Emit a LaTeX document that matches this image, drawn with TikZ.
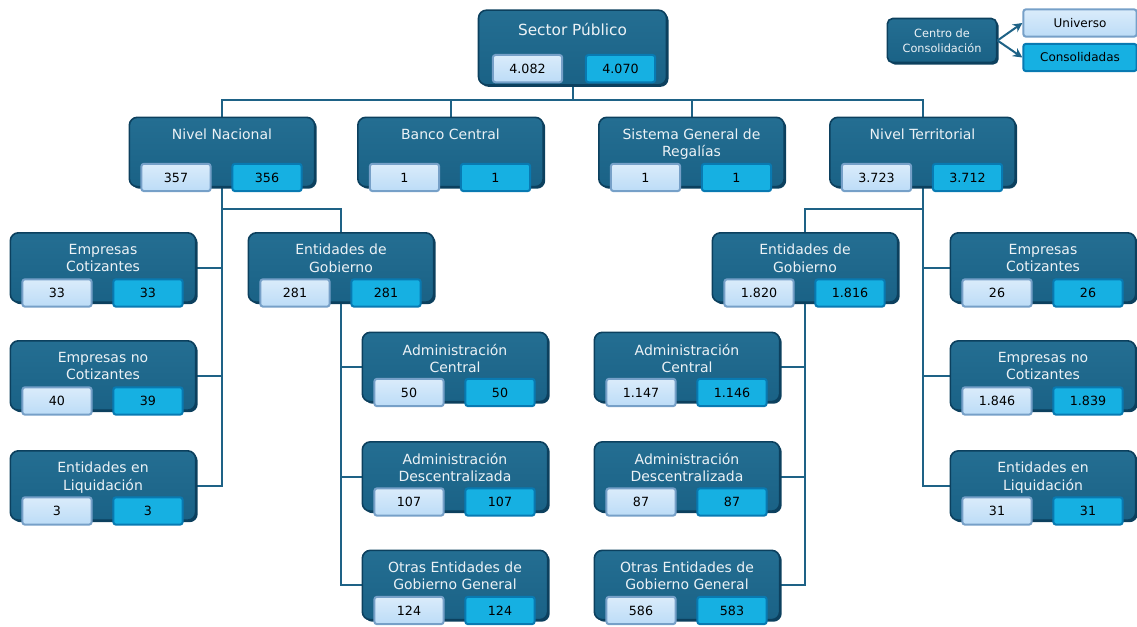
\documentclass[tikz,border=0pt]{standalone}
\usepackage{fontspec}
\setmainfont{DejaVu Sans}
\usetikzlibrary{calc,shadows,backgrounds,arrows.meta}
\definecolor{cajaazul}{RGB}{26,98,134}
\definecolor{cajaclara}{RGB}{36,110,146}
\definecolor{cajaborde}{RGB}{12,64,94}
\definecolor{linea}{RGB}{30,98,134}
\definecolor{textoclaro}{RGB}{236,242,246}
\definecolor{univfondo}{RGB}{188,220,247}
\definecolor{univborde}{RGB}{118,160,200}
\definecolor{consfondo}{RGB}{22,176,226}
\definecolor{consborde}{RGB}{8,122,178}
\tikzset{%
  caja/.style   = {shape=rectangle, rounded corners=6pt,%
                   draw=cajaborde, line width=1.2pt, inner sep=0pt,%
                   top color=cajaclara, bottom color=cajaazul,%
                   minimum width=139pt, minimum height=52pt,%
                   drop shadow={shadow xshift=1.5pt, shadow yshift=-1.5pt,%
                                fill=cajaborde, opacity=1}},%
  titulo/.style = {anchor=north, align=center, inner sep=0pt,%
                   text=textoclaro, font=\fontsize{10.5}{13}\selectfont},%
  mini/.style   = {shape=rectangle, rounded corners=2pt, line width=1.5pt,%
                   minimum width=52pt, minimum height=20.5pt, inner sep=0pt,%
                   font=\fontsize{9.5}{11}\selectfont},%
  univ/.style   = {mini, draw=univborde, top color=univfondo!55!white, bottom color=univfondo},%
  cons/.style   = {mini, draw=consborde, fill=consfondo},%
  conn/.style   = {draw=linea, line width=1.5pt}%
}
% caja con titulo y las dos cifras (universo, consolidadas)
\newcommand{\unidad}[6]{%
  \node[caja] (#1) at (#2,#3) {};
  \node[titulo] (#1-t) at ($(#1.north)+(0,12)$) {#4};
  \node[univ] (#1-u) at ($(#1.south)+(-46,-10)$) {#5};
  \node[cons] (#1-c) at ($(#1.south)+(45,-10)$) {#6};
}

\begin{document}
\begin{tikzpicture}[x=0.75pt, y=-0.75pt]
	\useasboundingbox (0,0) rectangle (1137,626);
	% leyenda
	\node[caja, minimum width=82pt, minimum height=33pt, rounded corners=4pt,%
	      text=textoclaro, align=center, font=\fontsize{8.5}{11}\selectfont]%
	      (cc) at (942,40.5) {Centro de\\Consolidación};
	\node[univ, minimum width=85pt, font=\fontsize{9}{11}\selectfont] (un) at (1080,23) {Universo};
	\node[cons, minimum width=85pt, font=\fontsize{9}{11}\selectfont] (co) at (1080,57.5) {Consolidadas};
	% sector publico
	\node[caja, minimum width=141pt, minimum height=56pt] (sp) at (572.5,47.5) {};
	\node[titulo, font=\fontsize{11.5}{13}\selectfont] (sp-t) at ($(sp.north)+(0,14)$) {Sector Público};
	\node[univ] (sp-u) at ($(sp.south)+(-45,-17)$) {4.082};
	\node[cons] (sp-c) at ($(sp.south)+(48,-17)$) {4.070};
	% segundo nivel
	\unidad{nn}{222}{152}{Nivel Nacional}{357}{356}
	\unidad{bc}{450.5}{152}{Banco Central}{1}{1}
	\unidad{sg}{691.5}{152}{Sistema General de\\Regalías}{1}{1}
	\unidad{nt}{922.5}{152}{Nivel Territorial}{3.723}{3.712}
	% nivel nacional
	\unidad{ecn}{103}{267.5}{Empresas\\Cotizantes}{33}{33}
	\unidad{enn}{103}{375.5}{Empresas no\\Cotizantes}{40}{39}
	\unidad{eln}{103}{485.5}{Entidades en\\Liquidación}{3}{3}
	\unidad{egn}{341}{267.5}{Entidades de\\Gobierno}{281}{281}
	\unidad{acn}{455}{367}{Administración\\Central}{50}{50}
	\unidad{adn}{455}{476.5}{Administración\\Descentralizada}{107}{107}
	\unidad{oen}{455}{585}{Otras Entidades de\\Gobierno General}{124}{124}
	% nivel territorial
	\unidad{egt}{805}{267.5}{Entidades de\\Gobierno}{1.820}{1.816}
	\unidad{act}{687}{367}{Administración\\Central}{1.147}{1.146}
	\unidad{adt}{687}{476.5}{Administración\\Descentralizada}{87}{87}
	\unidad{oet}{687}{585}{Otras Entidades de\\Gobierno General}{586}{583}
	\unidad{ect}{1043}{267.5}{Empresas\\Cotizantes}{26}{26}
	\unidad{ent}{1043}{375.5}{Empresas no\\Cotizantes}{1.846}{1.839}
	\unidad{elt}{1043}{485.5}{Entidades en\\Liquidación}{31}{31}
	% conectores
	\begin{scope}[on background layer]
		\coordinate (bus) at (572.5,100);
		\draw[conn] (sp.south) -- (bus);
		\draw[conn] (nn.north) |- (bus) -| (nt.north);
		\draw[conn] (bc.north) -- (bc.north |- bus);
		\draw[conn] (sg.north) -- (sg.north |- bus);
		\foreach \b in {ecn,enn,eln} \draw[conn] (nn.south) |- (\b.east);
		\draw[conn] (egn.north) -- ++(0,-23) -| (nn.south);
		\foreach \b in {acn,adn,oen} \draw[conn] (egn.south) |- (\b.west);
		\foreach \b in {ect,ent,elt} \draw[conn] (nt.south) |- (\b.west);
		\draw[conn] (egt.north) -- ++(0,-23) -| (nt.south);
		\foreach \b in {act,adt,oet} \draw[conn] (egt.south) |- (\b.east);
	\end{scope}
	\draw[conn, -{Stealth[length=7pt,width=7pt]}] (cc.east) -- (un.west);
	\draw[conn, -{Stealth[length=7pt,width=7pt]}] (cc.east) -- (co.west);
\end{tikzpicture}
\end{document}
